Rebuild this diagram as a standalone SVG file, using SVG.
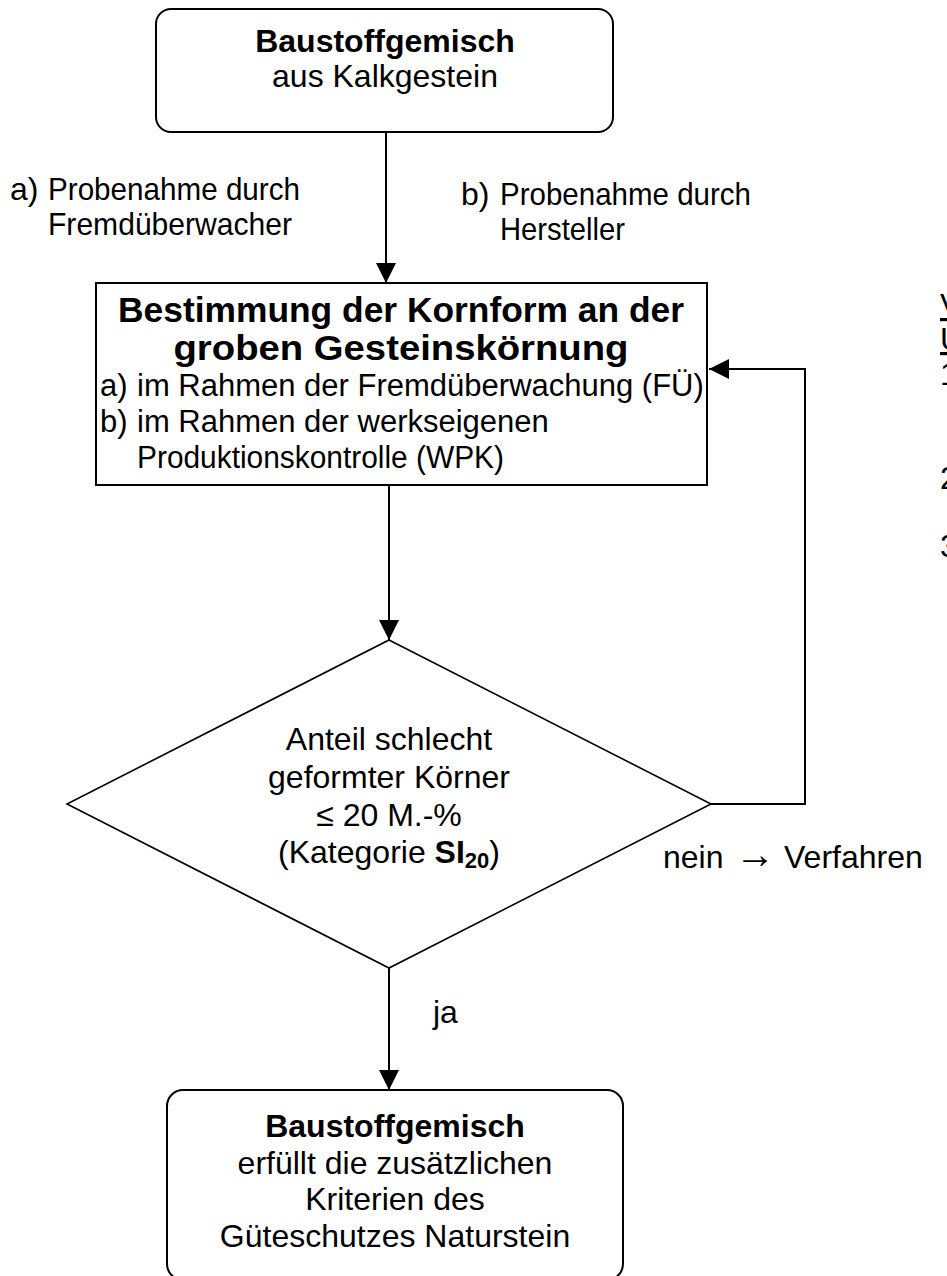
<svg xmlns="http://www.w3.org/2000/svg" width="947" height="1276" viewBox="0 0 947 1276">
  <style>
    .t { font-family: "Liberation Sans", Arial, Helvetica, sans-serif; font-size: 32px; fill: #000; }
    .m { text-anchor: middle; }
    .b { font-weight: bold; }
    .s31 { font-size: 31px; }
    .s35 { font-size: 35px; }
    .box { fill: #fff; stroke: #000; stroke-width: 2; }
    .dia { fill: #fff; stroke: #000; stroke-width: 1.6; }
    .con { fill: none; stroke: #000; stroke-width: 2; marker-end: url(#arrow); }
    .u { text-decoration: underline; }
    .arr { font-family: "Liberation Sans", Arial, sans-serif; font-size: 40px; fill: #000; }
  </style>
  <defs>
    <marker id="arrow" markerUnits="userSpaceOnUse" markerWidth="20" markerHeight="20" refX="20" refY="10" orient="auto">
      <path d="M0,0 L20,10 L0,20 Z" fill="#000"/>
    </marker>
  </defs>
  <rect width="947" height="1276" fill="#fff"/>

  <g id="connectors">
    <line class="con" x1="386" y1="132" x2="386" y2="283"/>
    <line class="con" x1="389" y1="485" x2="389" y2="640"/>
    <line class="con" x1="389" y1="968" x2="389" y2="1090"/>
    <polyline class="con" points="711,804 805,804 805,369 709,369"/>
  </g>

  <g id="n-start">
    <rect class="box" x="156" y="9" width="457" height="123" rx="15"/>
    <text class="t m b" x="385" y="52">Baustoffgemisch</text>
    <text class="t m" x="385" y="87">aus Kalkgestein</text>
  </g>

  <g id="n-measure">
    <rect class="box" x="96" y="283" width="611" height="202"/>
    <text class="t m b s35" x="401" y="322" textLength="566" lengthAdjust="spacingAndGlyphs">Bestimmung der Kornform an der</text>
    <text class="t m b s35" x="401" y="360" textLength="455" lengthAdjust="spacingAndGlyphs">groben Gesteinskörnung</text>
    <text class="t s31" x="100" y="396">a)</text>
    <text class="t s31" x="137" y="396">im Rahmen der Fremdüberwachung (FÜ)</text>
    <text class="t s31" x="100" y="432">b)</text>
    <text class="t s31" x="137" y="432">im Rahmen der werkseigenen</text>
    <text class="t s31" x="137" y="468" textLength="367" lengthAdjust="spacingAndGlyphs">Produktionskontrolle (WPK)</text>
  </g>

  <g id="n-decision">
    <polygon class="dia" points="389,640 711,804 389,968 67,804"/>
    <text class="t m" x="389" y="750">Anteil schlecht</text>
    <text class="t m" x="389" y="788">geformter Körner</text>
    <text class="t m" x="389" y="826">≤ 20 M.-%</text>
    <text class="t m" x="389" y="863">(Kategorie <tspan class="b">SI</tspan><tspan class="b" font-size="22" dy="5">20</tspan><tspan dy="-5">)</tspan></text>
  </g>

  <g id="n-end">
    <rect class="box" x="167" y="1090" width="456" height="190" rx="16"/>
    <text class="t m b" x="395" y="1137">Baustoffgemisch</text>
    <text class="t m" x="395" y="1174">erfüllt die zusätzlichen</text>
    <text class="t m" x="395" y="1210">Kriterien des</text>
    <text class="t m" x="395" y="1247">Güteschutzes Naturstein</text>
  </g>

  <g id="labels">
    <text class="t" x="10" y="200">a)</text>
    <text class="t" x="48" y="200" textLength="252" lengthAdjust="spacingAndGlyphs">Probenahme durch</text>
    <text class="t" x="48" y="235" textLength="244" lengthAdjust="spacingAndGlyphs">Fremdüberwacher</text>
    <text class="t" x="461" y="205">b)</text>
    <text class="t" x="500" y="205" textLength="251" lengthAdjust="spacingAndGlyphs">Probenahme durch</text>
    <text class="t" x="500" y="240" textLength="125" lengthAdjust="spacingAndGlyphs">Hersteller</text>
    <text class="t" x="433" y="1023">ja</text>
    <text class="t" x="663" y="868">nein</text>
    <text class="arr" x="735" y="868">→</text>
    <text class="t" x="784" y="868">Verfahren</text>
  </g>

  <g id="side-text">
    <text class="t u" x="940" y="316">V</text>
    <text class="t u" x="940" y="350">Ü</text>
    <text class="t" x="940" y="385">1</text>
    <text class="t" x="940" y="489">2</text>
    <text class="t" x="940" y="557">3</text>
  </g>
</svg>
